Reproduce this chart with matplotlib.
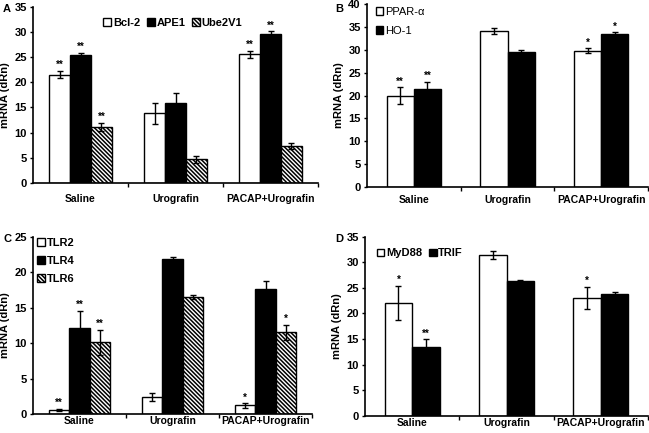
import matplotlib
matplotlib.use("Agg")
import matplotlib.pyplot as plt
import numpy as np

plt.rcParams['font.family'] = ['Liberation Sans', 'DejaVu Sans']
plt.rcParams['font.weight'] = 'bold'
plt.rcParams['hatch.linewidth'] = 1.1

categories = ["Saline", "Urografin", "PACAP+Urografin"]

# Panel A
a_bcl2 = [21.5, 13.8, 25.6]
a_bcl2_err = [0.7, 2.0, 0.7]
a_ape1 = [25.5, 15.8, 29.6]
a_ape1_err = [0.3, 2.0, 0.5]
a_ube = [11.1, 4.7, 7.3]
a_ube_err = [0.8, 0.7, 0.6]
a_bcl2_sig = ["**", "", "**"]
a_ape1_sig = ["**", "", "**"]
a_ube_sig = ["**", "", ""]

# Panel B
b_ppar = [20.0, 34.1, 29.8]
b_ppar_err = [1.8, 0.7, 0.5]
b_ho1 = [21.4, 29.5, 33.4]
b_ho1_err = [1.6, 0.5, 0.4]
b_ppar_sig = ["**", "", "*"]
b_ho1_sig = ["**", "", "*"]

# Panel C
c_tlr2 = [0.6, 2.4, 1.2]
c_tlr2_err = [0.15, 0.5, 0.3]
c_tlr4 = [12.1, 21.9, 17.6]
c_tlr4_err = [2.4, 0.3, 1.1]
c_tlr6 = [10.1, 16.5, 11.5]
c_tlr6_err = [1.8, 0.3, 1.1]
c_tlr2_sig = ["**", "", "*"]
c_tlr4_sig = ["**", "", ""]
c_tlr6_sig = ["**", "", "*"]

# Panel D
d_myd = [22.1, 31.4, 23.0]
d_myd_err = [3.3, 0.8, 2.2]
d_trif = [13.5, 26.3, 23.7]
d_trif_err = [1.4, 0.3, 0.4]
d_myd_sig = ["*", "", "*"]
d_trif_sig = ["**", "", ""]

W, H = 649, 433
fig = plt.figure(figsize=(W/100, H/100), dpi=100)

def make_ax(l, r, t, b):
    return fig.add_axes([l/W, (H-b)/H, (r-l)/W, (b-t)/H])

STYLES = {
    'white': dict(color='white', hatch=None),
    'black': dict(color='black', hatch=None),
    'hatch': dict(color='white', hatch='\\\\\\\\\\\\\\\\'),
}

def panel(ax, series, width, ymax, ystep, xpad):
    n = len(series)
    x = np.arange(len(categories))
    for i, (label, vals, errs, sigs, style) in enumerate(series):
        off = (i - (n-1)/2) * width
        st = STYLES[style]
        ax.bar(x + off, vals, width, facecolor=st['color'], edgecolor='black',
               hatch=st['hatch'], linewidth=1.0, label=label, zorder=2)
        ax.errorbar(x + off, vals, yerr=errs, fmt='none', ecolor='black',
                    elinewidth=1.0, capsize=2.5, capthick=1.0, zorder=3)
        for xi, v, e, s in zip(x + off, vals, errs, sigs):
            if s:
                ax.text(xi, v + e + ymax*0.005, s, ha='center', va='bottom',
                        fontsize=7, fontweight='bold')
    ax.set_xlim(-0.5, 2.5)
    ax.set_ylim(0, ymax)
    ax.set_yticks(np.arange(0, ymax + 0.1, ystep))
    ax.set_xticks(x)
    ax.set_xticklabels(categories, fontsize=7.5, fontweight='bold')
    ax.set_xticks([0.5, 1.5, 2.5], minor=True)
    ax.tick_params(axis='x', which='major', length=0, pad=xpad)
    ax.tick_params(axis='x', which='minor', length=3, width=1)
    ax.tick_params(axis='y', length=2.5, width=1, labelsize=8, pad=2)
    for lab in ax.get_yticklabels():
        lab.set_fontweight('bold')
    ax.spines['top'].set_visible(False)
    ax.spines['right'].set_visible(False)
    ax.spines['left'].set_linewidth(1.2)
    ax.spines['bottom'].set_linewidth(1.2)
    ax.set_ylabel('mRNA (dRn)', fontsize=8, fontweight='bold', labelpad=3)

axA = make_ax(33, 318, 6.7, 183)
panel(axA, [("Bcl-2", a_bcl2, a_bcl2_err, a_bcl2_sig, 'white'),
            ("APE1", a_ape1, a_ape1_err, a_ape1_sig, 'black'),
            ("Ube2V1", a_ube, a_ube_err, a_ube_sig, 'hatch')],
      0.22, 35, 5, 8)
axA.legend(loc='upper center', bbox_to_anchor=(0.49, 0.96), ncol=3, frameon=False,
           fontsize=8, handlelength=0.7, handleheight=0.7, handletextpad=0.15,
           columnspacing=0.6, borderaxespad=0)

axB = make_ax(367, 648, 4, 187)
panel(axB, [("PPAR-α", b_ppar, b_ppar_err, b_ppar_sig, 'white'),
            ("HO-1", b_ho1, b_ho1_err, b_ho1_sig, 'black')],
      0.29, 40, 5, 6)
axB.legend(loc='upper left', bbox_to_anchor=(0.015, 1.01), ncol=1, frameon=False,
           handlelength=0.7, handleheight=0.7, handletextpad=0.15,
           labelspacing=0.85, borderaxespad=0, prop={'weight': 'normal', 'size': 8})

axC = make_ax(33, 312, 236.7, 414)
panel(axC, [("TLR2", c_tlr2, c_tlr2_err, c_tlr2_sig, 'white'),
            ("TLR4", c_tlr4, c_tlr4_err, c_tlr4_sig, 'black'),
            ("TLR6", c_tlr6, c_tlr6_err, c_tlr6_sig, 'hatch')],
      0.22, 25, 5, 1.5)
axC.legend(loc='upper left', bbox_to_anchor=(0.0, 1.02), ncol=1, frameon=False,
           fontsize=8, handlelength=0.7, handleheight=0.7, handletextpad=0.15,
           labelspacing=0.75, borderaxespad=0)

axD = make_ax(365, 648, 236.7, 415.7)
panel(axD, [("MyD88", d_myd, d_myd_err, d_myd_sig, 'white'),
            ("TRIF", d_trif, d_trif_err, d_trif_sig, 'black')],
      0.29, 35, 5, 1.5)
axD.legend(loc='upper left', bbox_to_anchor=(0.025, 0.96), ncol=2, frameon=False,
           fontsize=8, handlelength=0.7, handleheight=0.7, handletextpad=0.15,
           columnspacing=0.6, borderaxespad=0)

fig.text(3/W, 1 - 12/H, 'A', fontsize=8, fontweight='bold')
fig.text(335/W, 1 - 12/H, 'B', fontsize=8, fontweight='bold')
fig.text(3/W, 1 - 242/H, 'C', fontsize=8, fontweight='bold')
fig.text(335/W, 1 - 242/H, 'D', fontsize=8, fontweight='bold')

fig.savefig('out.png', dpi=100)
